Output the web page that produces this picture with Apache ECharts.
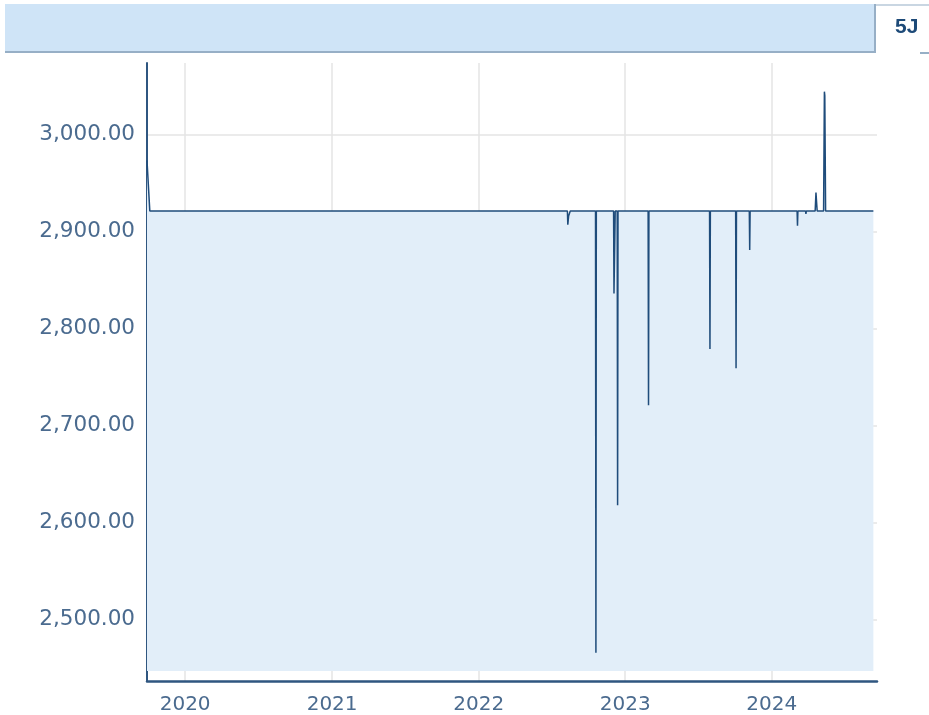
<!DOCTYPE html>
<html>
<head>
<meta charset="utf-8">
<title>5J</title>
<script src="https://cdn.jsdelivr.net/npm/echarts@6/dist/echarts.min.js"></script>
<style>
  html, body { margin: 0; padding: 0; background: #fff; }
  #chart { width: 929px; height: 715px; }
</style>
</head>
<body>
<div id="chart"></div>
<script>
// Kurs-Daten (Zeitpunkte, an denen sich der Wert ändert)
const dates = [
  '2019-09-28', '2019-10-05',
  '2022-08-10', '2022-08-11', '2022-08-13', '2022-08-16', '2022-08-17',
  '2022-10-19', '2022-10-20', '2022-10-21',
  '2022-12-03', '2022-12-04', '2022-12-06', '2022-12-07',
  '2022-12-12', '2022-12-13', '2022-12-14',
  '2023-02-27', '2023-02-28', '2023-03-01',
  '2023-07-30', '2023-07-31', '2023-08-01',
  '2023-10-03', '2023-10-04', '2023-10-05',
  '2023-11-06', '2023-11-07', '2023-11-08',
  '2024-03-04', '2024-03-05', '2024-03-06',
  '2024-03-25', '2024-03-26', '2024-03-27',
  '2024-04-18', '2024-04-20', '2024-04-23',
  '2024-05-09', '2024-05-11', '2024-05-12', '2024-05-14',
  '2024-09-10'
];
const prices = [
  2973, 2921,
  2921, 2907, 2916, 2916, 2921,
  2921, 2466, 2921,
  2921, 2836, 2836, 2921,
  2921, 2618, 2921,
  2921, 2721, 2921,
  2921, 2779, 2921,
  2921, 2759, 2921,
  2921, 2881, 2921,
  2921, 2906, 2921,
  2921, 2918, 2921,
  2921, 2940, 2921,
  2921, 3044, 3040, 2921,
  2921
];
// Achsenbeschriftung
const yTicks = [2500, 2600, 2700, 2800, 2900, 3000];
const yearTicks = [2020, 2021, 2022, 2023, 2024];

const toTime = s => {
  const p = s.split('-').map(Number);
  return new Date(p[0], p[1] - 1, p[2]).getTime();
};

const myChart = echarts.init(document.getElementById('chart'));
const seriesData = dates.map((d, i) => [toTime(d), prices[i]]);
const yearValues = yearTicks.map(y => new Date(y, 0, 1).getTime());

const option = {
  animation: false,
  textStyle: { fontFamily: 'DejaVu Sans' },
  grid: { left: 147, right: 52, top: 63, bottom: 32 },
  graphic: [
    // Kopfzeile
    { type: 'rect', shape: { x: 5, y: 4, width: 869, height: 47 }, style: { fill: '#cfe4f7' } },
    { type: 'line', shape: { x1: 5, y1: 52, x2: 876, y2: 52 }, style: { stroke: '#97afc6', lineWidth: 2 } },
    { type: 'line', shape: { x1: 875, y1: 4, x2: 875, y2: 53 }, style: { stroke: '#97afc6', lineWidth: 2 } },
    { type: 'line', shape: { x1: 876, y1: 5, x2: 929, y2: 5 }, style: { stroke: '#c9d6e2', lineWidth: 2 } },
    { type: 'line', shape: { x1: 920, y1: 53, x2: 929, y2: 53 }, style: { stroke: '#97afc6', lineWidth: 2 } },
    {
      type: 'text', left: 895, top: 17,
      style: { text: '5J', fill: '#1d4a78', font: 'bold 21px "Liberation Sans", Arial' }
    }
  ],
  xAxis: {
    type: 'value',
    min: toTime('2019-09-28'),
    max: toTime('2024-09-19'),
    axisLine: { lineStyle: { color: '#2f5680', width: 2.5 } },
    axisTick: { show: false, customValues: yearValues },
    axisLabel: {
      customValues: yearValues,
      formatter: v => String(new Date(v).getFullYear()),
      color: '#4b6b8f',
      fontSize: 20,
      margin: 14
    },
    splitLine: { show: true, lineStyle: { color: '#e4e4e4', width: 1.5 } }
  },
  yAxis: {
    type: 'value',
    min: 2437,
    max: 3073.5,
    axisLine: { show: true, lineStyle: { color: '#2f5680', width: 2 } },
    axisTick: { show: false, customValues: yTicks },
    axisLabel: {
      customValues: yTicks,
      formatter: v => v.toLocaleString('en-US', { minimumFractionDigits: 2, maximumFractionDigits: 2 }),
      color: '#4b6b8f',
      fontSize: 21.5,
      margin: 12
    },
    splitLine: { show: true, lineStyle: { color: '#e4e4e4', width: 1.5 } }
  },
  series: [
    {
      type: 'line',
      data: seriesData,
      symbol: 'none',
      lineStyle: { color: '#1f4c7b', width: 1.5 },
      areaStyle: { color: '#e2eef9', opacity: 1, origin: 2447.4 }
    }
  ]
};
myChart.setOption(option);
window.addEventListener('resize', () => {
  if (myChart) {
    myChart.resize();
  }
});
</script>
</body>
</html>
